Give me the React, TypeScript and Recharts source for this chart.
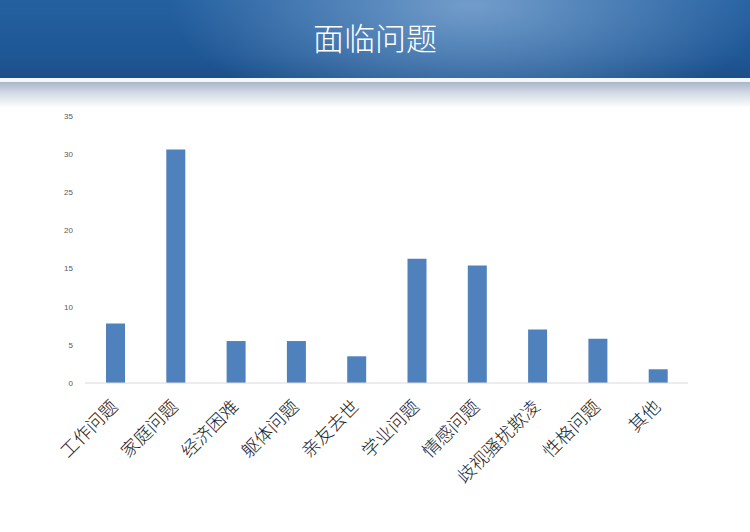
import { BarChart, Bar, XAxis, YAxis } from 'recharts';

const CATEGORIES = [
  '工作问题',
  '家庭问题',
  '经济困难',
  '躯体问题',
  '亲友去世',
  '学业问题',
  '情感问题',
  '歧视骚扰欺凌',
  '性格问题',
  '其他',
];
const VALUES = [7.8, 30.6, 5.5, 5.5, 3.5, 16.3, 15.4, 7.0, 5.8, 1.8];
const Y_TICKS = [0, 5, 10, 15, 20, 25, 30, 35];

const data = CATEGORIES.map((name, i) => ({ name, value: VALUES[i] }));

const CJK = '"Noto Sans CJK SC", "Noto Sans", sans-serif';

function SlantTick({ x, y, payload }: any) {
  return (
    <g transform={`translate(${x - 8},${y + 5})`}>
      <text
        transform="rotate(-45)"
        textAnchor="end"
        dominantBaseline="hanging"
        fontSize={18}
        fontFamily={CJK}
        fontWeight={300}
        fill="#1a1a1a"
      >
        {payload.value}
      </text>
    </g>
  );
}

export default function App() {
  return (
    <div
      style={{
        position: 'relative',
        width: 750,
        height: 532,
        background: '#ffffff',
        overflow: 'hidden',
      }}
    >
      <style>{`body{margin:0}`}</style>
      {/* header band */}
      <div
        style={{
          position: 'absolute',
          left: 0,
          top: 0,
          width: 750,
          height: 78,
          background:
            'radial-gradient(ellipse 300px 120px at 470px 5px, rgba(118,160,205,0.95), rgba(118,160,205,0) 100%), linear-gradient(180deg, #2460a0 0%, #1f5795 70%, #1c4f89 100%)',
        }}
      />
      <div
        style={{
          position: 'absolute',
          left: 0,
          top: 78,
          width: 750,
          height: 4,
          background: '#f4f7fa',
        }}
      />
      <div
        style={{
          position: 'absolute',
          left: 0,
          top: 82,
          width: 750,
          height: 26,
          background: 'linear-gradient(180deg, #a9b6c8 0%, #d5dde7 45%, #ffffff 100%)',
        }}
      />
      <div
        style={{
          position: 'absolute',
          left: 0,
          top: 17,
          width: 750,
          textAlign: 'center',
          color: '#ffffff',
          fontFamily: CJK,
          fontWeight: 300,
          fontSize: 31,
          lineHeight: '40px',
        }}
      >
        面临问题
      </div>
      <div style={{ position: 'absolute', left: 0, top: 0 }}>
        <BarChart
          width={750}
          height={532}
          data={data}
          margin={{ top: 116, right: 62, bottom: 0, left: 45 }}
        >
          <YAxis
            width={40}
            domain={[0, 35]}
            ticks={Y_TICKS}
            interval={0}
            axisLine={false}
            tickLine={false}
            tickSize={0}
            tickMargin={12}
            tick={{ fontSize: 8, fill: '#595959', fontFamily: 'Liberation Sans, sans-serif' }}
          />
          <XAxis
            dataKey="name"
            height={149}
            interval={0}
            tickLine={false}
            axisLine={{ stroke: '#d9d9d9' }}
            tick={<SlantTick />}
          />
          <Bar dataKey="value" fill="#4f81bd" barSize={19} isAnimationActive={false} />
        </BarChart>
      </div>
    </div>
  );
}
